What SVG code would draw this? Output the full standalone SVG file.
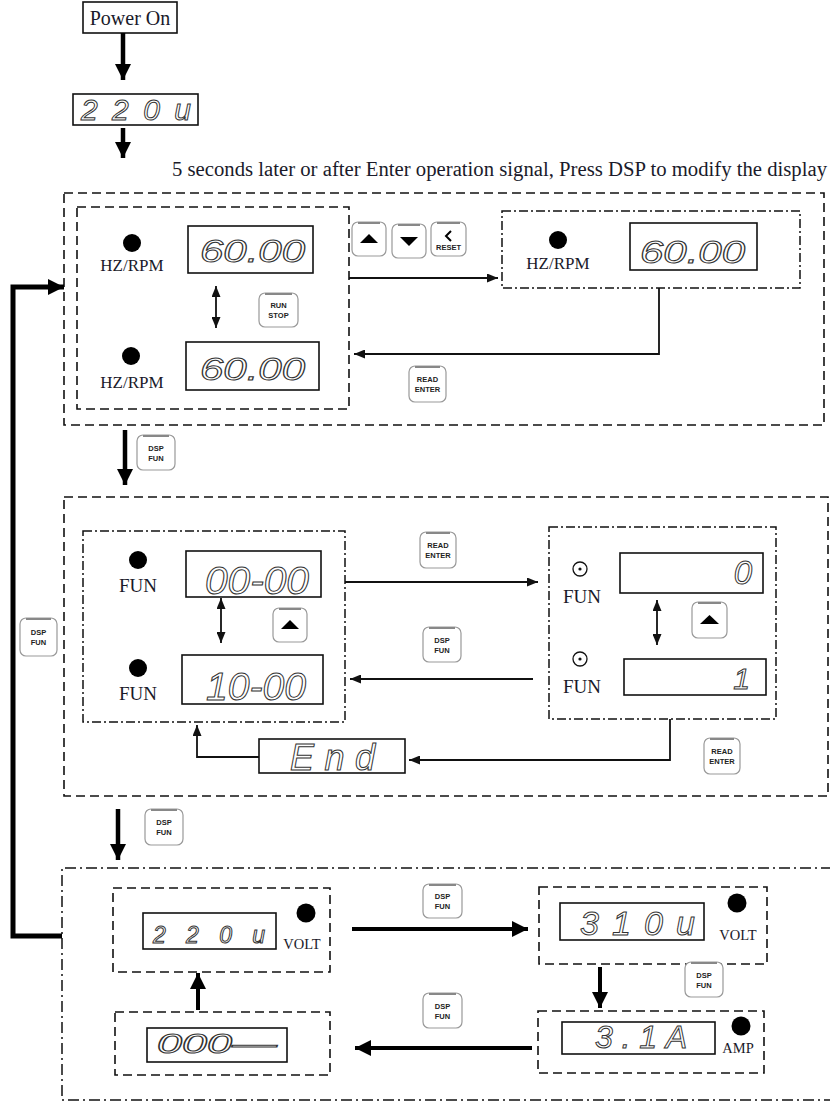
<svg xmlns="http://www.w3.org/2000/svg" width="830" height="1103" viewBox="0 0 830 1103">
<defs>
<style>
.lbl{font-family:"Liberation Serif","Times New Roman",serif;fill:#1a1a2a}
.seg{font-family:"Liberation Sans",Arial,sans-serif;font-style:oblique;fill:#fff;stroke:#333;stroke-width:1}
.disp{fill:#fff;stroke:#111;stroke-width:1.6}
.dash{fill:none;stroke:#111;stroke-width:1.6;stroke-dasharray:9 5}
.dashdot{fill:none;stroke:#111;stroke-width:1.5;stroke-dasharray:9 3 2 3}
.btn{fill:#fff;stroke:#999;stroke-width:1.2}
.btop{stroke:#888;stroke-width:2;fill:none}
.bt{font-family:"Liberation Sans",Arial,sans-serif;font-weight:bold;font-size:7.5px;fill:#222;text-anchor:middle}
.thin{fill:none;stroke:#111;stroke-width:1.8}
.thick{fill:none;stroke:#000;stroke-width:4.5}
</style>
<marker id="ah" markerUnits="userSpaceOnUse" markerWidth="11" markerHeight="9" refX="11" refY="4.5" orient="auto-start-reverse"><path d="M0,0 L11,4.5 L0,9 z" fill="#111"/></marker>
<marker id="ahb" markerUnits="userSpaceOnUse" markerWidth="16" markerHeight="16" refX="16" refY="8" orient="auto"><path d="M0,0 L16,8 L0,16 z" fill="#000"/></marker>
</defs>
<rect width="830" height="1103" fill="#fff"/>

<!-- top -->
<g id="power-on"><rect x="83" y="2" width="94" height="31" fill="#fff" stroke="#111" stroke-width="1.6"/><text class="lbl" x="130" y="25" font-size="20" text-anchor="middle">Power On</text></g>
<g id="disp-220-top"><rect class="disp" x="73" y="94" width="125" height="31"/><text class="seg" x="81" y="120" font-size="30" textLength="110" lengthAdjust="spacing">220u</text></g>
<text id="caption" class="lbl" x="172" y="176" font-size="20" textLength="655" lengthAdjust="spacingAndGlyphs">5 seconds later or after Enter operation signal, Press DSP to modify the display</text>

<!-- section 1 -->
<g id="section1">
<rect class="dash" x="64" y="193" width="760" height="232"/>
<g id="s1-left">
<rect class="dash" x="77" y="207" width="272" height="202"/>
<circle cx="132" cy="243" r="9" fill="#000"/>
<text class="lbl" x="132" y="271" font-size="17" text-anchor="middle">HZ/RPM</text>
<rect class="disp" x="188" y="226" width="125" height="47"/>
<text class="seg" x="200" y="262" font-size="31" textLength="105" lengthAdjust="spacingAndGlyphs">60.00</text>
<circle cx="131" cy="356" r="9" fill="#000"/>
<text class="lbl" x="132" y="388" font-size="17" text-anchor="middle">HZ/RPM</text>
<rect class="disp" x="186" y="342" width="133" height="48"/>
<text class="seg" x="200" y="380" font-size="31" textLength="105" lengthAdjust="spacingAndGlyphs">60.00</text>
</g>
<g id="s1-right">
<rect class="dashdot" x="502" y="211" width="298" height="77"/>
<circle cx="558" cy="240" r="9" fill="#000"/>
<text class="lbl" x="558" y="269" font-size="17" text-anchor="middle">HZ/RPM</text>
<rect class="disp" x="630" y="223" width="127" height="47"/>
<text class="seg" x="640" y="263" font-size="31" textLength="105" lengthAdjust="spacingAndGlyphs">60.00</text>
</g>
<g id="btn-run-stop" transform="translate(259,293)"><rect class="btn" width="39" height="34" rx="6"/><path class="btop" d="M6,1 H33"/><text class="bt" x="19.5" y="15">RUN</text><text class="bt" x="19.5" y="25">STOP</text></g>
<g id="btn-up1" transform="translate(352,222)"><rect class="btn" width="34" height="34" rx="6"/><path class="btop" d="M6,1 H28"/><path d="M8,21 L17,12 L26,21 z" fill="#000"/></g>
<g id="btn-down1" transform="translate(392,224)"><rect class="btn" width="34" height="34" rx="6"/><path class="btop" d="M6,1 H28"/><path d="M8,13 L26,13 L17,22 z" fill="#000"/></g>
<g id="btn-reset" transform="translate(431,222)"><rect class="btn" width="35" height="34" rx="6"/><path class="btop" d="M6,1 H29"/><path d="M20,9 L15,14 L20,19" fill="none" stroke="#000" stroke-width="2"/><text class="bt" x="17.5" y="28" font-size="7">RESET</text></g>
<g id="btn-read1" transform="translate(409,366)"><rect class="btn" width="37" height="36" rx="6"/><path class="btop" d="M6,1 H31"/><text class="bt" x="18.5" y="16">READ</text><text class="bt" x="18.5" y="26">ENTER</text></g>
</g>

<g id="btn-dsp1" transform="translate(137,435)"><rect class="btn" width="38" height="35" rx="6"/><path class="btop" d="M6,1 H32"/><text class="bt" x="19" y="16">DSP</text><text class="bt" x="19" y="26">FUN</text></g>

<!-- section 2 -->
<g id="section2">
<rect class="dash" x="64" y="497" width="764" height="299"/>
<g id="s2-left">
<rect class="dashdot" x="83" y="531" width="262" height="191"/>
<circle cx="138" cy="560" r="9" fill="#000"/>
<text class="lbl" x="138" y="592" font-size="19" text-anchor="middle">FUN</text>
<rect class="disp" x="186" y="551" width="135" height="46"/>
<text class="seg" x="205" y="594" font-size="38" textLength="104" lengthAdjust="spacingAndGlyphs">00-00</text>
<circle cx="138" cy="668" r="9" fill="#000"/>
<text class="lbl" x="138" y="700" font-size="19" text-anchor="middle">FUN</text>
<rect class="disp" x="182" y="655" width="141" height="49"/>
<text class="seg" x="206" y="700" font-size="38" textLength="100" lengthAdjust="spacingAndGlyphs">10-00</text>
</g>
<g id="s2-right">
<rect class="dashdot" x="549" y="527" width="227" height="192"/>
<circle cx="580" cy="569" r="7" fill="none" stroke="#111" stroke-width="1.3"/><circle cx="580" cy="569" r="1.6" fill="#111"/>
<text class="lbl" x="582" y="603" font-size="19" text-anchor="middle">FUN</text>
<rect class="disp" x="620" y="553" width="143" height="40"/>
<text class="seg" x="752" y="584" font-size="33" text-anchor="end">0</text>
<circle cx="580" cy="659" r="7" fill="none" stroke="#111" stroke-width="1.3"/><circle cx="580" cy="659" r="1.6" fill="#111"/>
<text class="lbl" x="582" y="693" font-size="19" text-anchor="middle">FUN</text>
<rect class="disp" x="624" y="659" width="142" height="36"/>
<text class="seg" x="750" y="689" font-size="30" text-anchor="end">1</text>
</g>
<g id="disp-end"><rect class="disp" x="259" y="739" width="146" height="34"/><text class="seg" x="290" y="770" font-size="36" textLength="85" lengthAdjust="spacing">End</text></g>
<g id="btn-up2" transform="translate(273,608)"><rect class="btn" width="34" height="34" rx="6"/><path class="btop" d="M6,1 H28"/><path d="M8,21 L17,12 L26,21 z" fill="#000"/></g>
<g id="btn-up3" transform="translate(692,602)"><rect class="btn" width="35" height="36" rx="6"/><path class="btop" d="M6,1 H29"/><path d="M8,22 L17.5,13 L27,22 z" fill="#000"/></g>
<g id="btn-read2" transform="translate(420,532)"><rect class="btn" width="36" height="36" rx="6"/><path class="btop" d="M6,1 H30"/><text class="bt" x="18" y="16">READ</text><text class="bt" x="18" y="26">ENTER</text></g>
<g id="btn-dsp2" transform="translate(423,627)"><rect class="btn" width="38" height="35" rx="6"/><path class="btop" d="M6,1 H32"/><text class="bt" x="19" y="16">DSP</text><text class="bt" x="19" y="26">FUN</text></g>
<g id="btn-read3" transform="translate(704,738)"><rect class="btn" width="36" height="36" rx="6"/><path class="btop" d="M6,1 H30"/><text class="bt" x="18" y="16">READ</text><text class="bt" x="18" y="26">ENTER</text></g>
</g>

<g id="btn-dsp3" transform="translate(145,809)"><rect class="btn" width="38" height="36" rx="6"/><path class="btop" d="M6,1 H32"/><text class="bt" x="19" y="16">DSP</text><text class="bt" x="19" y="26">FUN</text></g>
<g id="btn-dsp-left" transform="translate(20,618)"><rect class="btn" width="37" height="38" rx="6"/><path class="btop" d="M6,1 H31"/><text class="bt" x="18.5" y="17">DSP</text><text class="bt" x="18.5" y="27">FUN</text></g>

<!-- section 3 -->
<g id="section3">
<path class="dashdot" d="M832,868 H62 V1100 H832" style="stroke-dasharray:11 4 2 4"/>
<g id="s3-volt1">
<rect class="dash" x="113" y="888" width="217" height="84"/>
<rect class="disp" x="143" y="913" width="133" height="36"/>
<text class="seg" x="153" y="943" font-size="23" textLength="112" lengthAdjust="spacing">220u</text>
<circle cx="306" cy="913" r="9.5" fill="#000"/>
<text class="lbl" x="302" y="949" font-size="14.5" text-anchor="middle">VOLT</text>
</g>
<g id="s3-zero">
<rect class="dash" x="115" y="1012" width="215" height="63"/>
<rect class="disp" x="147" y="1028" width="140" height="34"/>
<text class="seg" x="157" y="1053" font-size="27" textLength="120" lengthAdjust="spacingAndGlyphs">000—</text>
</g>
<g id="s3-volt2">
<rect class="dash" x="539" y="887" width="228" height="77"/>
<rect class="disp" x="560" y="903" width="144" height="37"/>
<text class="seg" x="580" y="935" font-size="34" textLength="115" lengthAdjust="spacing">310u</text>
<circle cx="737" cy="903" r="9.5" fill="#000"/>
<text class="lbl" x="738" y="940" font-size="14.5" text-anchor="middle">VOLT</text>
</g>
<g id="s3-amp">
<rect class="dash" x="538" y="1011" width="226" height="62"/>
<rect class="disp" x="562" y="1022" width="153" height="32"/>
<text class="seg" x="595" y="1048" font-size="32" textLength="92" lengthAdjust="spacing">3.1A</text>
<circle cx="741" cy="1026" r="9.5" fill="#000"/>
<text class="lbl" x="738" y="1053" font-size="14.5" text-anchor="middle">AMP</text>
</g>
<g id="btn-dsp4" transform="translate(423,884)"><rect class="btn" width="39" height="34" rx="6"/><path class="btop" d="M6,1 H33"/><text class="bt" x="19.5" y="15">DSP</text><text class="bt" x="19.5" y="25">FUN</text></g>
<g id="btn-dsp5" transform="translate(423,993)"><rect class="btn" width="39" height="35" rx="6"/><path class="btop" d="M6,1 H33"/><text class="bt" x="19.5" y="16">DSP</text><text class="bt" x="19.5" y="26">FUN</text></g>
<g id="btn-dsp6" transform="translate(685,962)"><rect class="btn" width="38" height="35" rx="6"/><path class="btop" d="M6,1 H32"/><text class="bt" x="19" y="16">DSP</text><text class="bt" x="19" y="26">FUN</text></g>
</g>

<!-- connectors -->
<g id="connectors">
<path class="thick" d="M123,33 V80" marker-end="url(#ahb)"/>
<path class="thick" d="M123,128 V158" marker-end="url(#ahb)"/>
<path class="thick" d="M125,430 V485" marker-end="url(#ahb)"/>
<path class="thick" d="M118,809 V860" marker-end="url(#ahb)"/>
<path class="thick" d="M62,936 H13 V287 H64" style="stroke-width:5" marker-end="url(#ahb)"/>
<path class="thin" d="M216,286 V328" marker-start="url(#ah)" marker-end="url(#ah)"/>
<path class="thin" d="M349,278 H498" marker-end="url(#ah)"/>
<path class="thin" d="M659,288 V354 H354" marker-end="url(#ah)"/>
<path class="thin" d="M221,598 V643" marker-start="url(#ah)" marker-end="url(#ah)"/>
<path class="thin" d="M657,600 V645" marker-start="url(#ah)" marker-end="url(#ah)"/>
<path class="thin" d="M345,582 H538" marker-end="url(#ah)"/>
<path class="thin" d="M533,679 H350" marker-end="url(#ah)"/>
<path class="thin" d="M670,719 V760 H409" marker-end="url(#ah)"/>
<path class="thin" d="M259,757 H197 V725" marker-end="url(#ah)"/>
<path class="thick" d="M352,929 H528" style="stroke-width:4" marker-end="url(#ahb)"/>
<path class="thick" d="M532,1048 H355" style="stroke-width:4" marker-end="url(#ahb)"/>
<path class="thick" d="M198,1010 V973" style="stroke-width:4" marker-end="url(#ahb)"/>
<path class="thick" d="M600,967 V1008" style="stroke-width:4" marker-end="url(#ahb)"/>
</g>
</svg>
